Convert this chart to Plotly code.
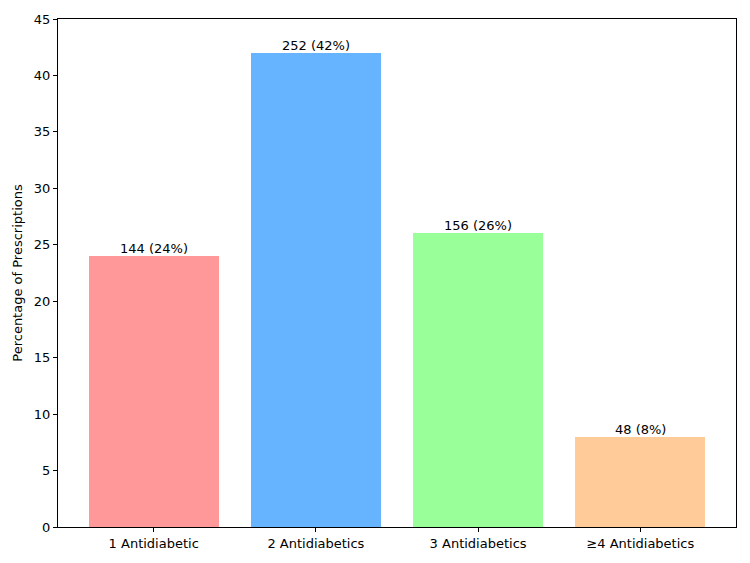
import plotly.graph_objects as go

categories = ["1 Antidiabetic", "2 Antidiabetics", "3 Antidiabetics", "≥4 Antidiabetics"]
counts = [144, 252, 156, 48]
percentages = [24, 42, 26, 8]
colors = ["#ff9999", "#66b3ff", "#99ff99", "#ffcc99"]

xpos = list(range(len(categories)))
font = dict(family="DejaVu Sans", size=13, color="#000000")

fig = go.Figure(go.Bar(
    x=xpos, y=percentages, width=0.8,
    marker=dict(color=colors, line=dict(width=0)),
    hoverinfo="skip",
))

for x, c, p in zip(xpos, counts, percentages):
    fig.add_annotation(x=x, y=p, text=f"{c} ({p}%)", showarrow=False,
                       yanchor="bottom", yshift=-2, font=font)

fig.update_layout(
    width=750, height=563,
    margin=dict(l=58, r=14, t=19, b=36),
    paper_bgcolor="white", plot_bgcolor="white",
    font=font, showlegend=False, bargap=0,
)
fig.update_xaxes(
    range=[-0.59, 3.59], tickvals=xpos, ticktext=categories,
    ticks="outside", ticklen=4, tickcolor="#000", tickwidth=1,
    showline=True, linecolor="#000", linewidth=1, mirror=True,
    showgrid=False, zeroline=False, tickfont=font,
)
fig.update_yaxes(
    range=[0, 45], dtick=5, title=dict(text="Percentage of Prescriptions", font=font, standoff=8),
    ticks="outside", ticklen=4, tickcolor="#000", tickwidth=1,
    showline=True, linecolor="#000", linewidth=1, mirror=True,
    showgrid=False, zeroline=False, tickfont=font,
)

fig.write_html("out.html")
